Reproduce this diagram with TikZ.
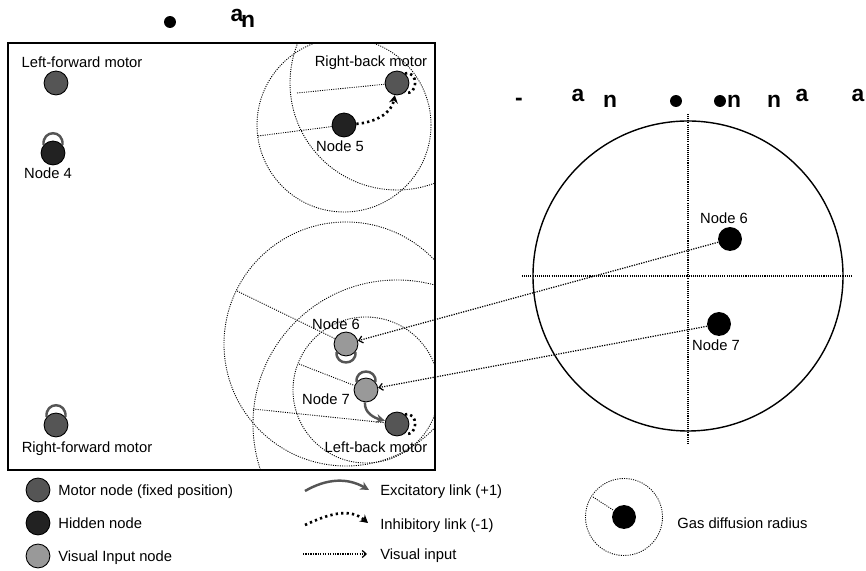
\documentclass[tikz,border=0pt]{standalone}
\usepackage{fontspec}
\setmainfont{Liberation Sans}
\usetikzlibrary{arrows.meta}

\definecolor{motorgray}{RGB}{85,85,85}
\definecolor{hiddengray}{RGB}{34,34,34}
\definecolor{visualgray}{RGB}{153,153,153}

\tikzset{
  neuron/.style={draw, circle, line width=0.5pt, minimum size=13.6pt, inner sep=0pt},
  motor/.style={neuron, fill=motorgray},
  hidden/.style={neuron, fill=hiddengray},
  visual/.style={neuron, fill=visualgray},
  gasnode/.style={circle, fill=black, minimum size=13.6pt, inner sep=0pt},
  dotmark/.style={circle, fill=black, minimum size=6.8pt, inner sep=0pt},
  lbl/.style={font=\fontsize{8.4}{10}\selectfont, inner sep=0pt, text height=6pt, text depth=0pt},
  glyph/.style={font=\fontsize{13}{13}\bfseries\selectfont, inner sep=0pt},
  excit/.style={draw=motorgray, line width=1.4pt},
  inhib/.style={line width=1.5pt, dash pattern=on 1.3pt off 1.8pt},
  gasline/.style={line width=0.5pt, dash pattern=on 0.6pt off 0.7pt},
  axisline/.style={line width=0.8pt, dash pattern=on 0.6pt off 0.6pt},
  vislink/.style={line width=0.7pt, dash pattern=on 0.7pt off 0.7pt, -{Straight Barb[length=2.2pt,width=4pt]}},
}

\begin{document}
\begin{tikzpicture}[x=0.02cm, y=0.02cm]
  \useasboundingbox (0,0) rectangle (866,571);

  % stray title glyphs
  \node[dotmark] (td1) at (170,549) {};
  \node[glyph] (ta1) at (237,556) {a};
  \node[glyph] (tn1) at (248,550) {n};
  \node[glyph] (tm2) at (519,469) {-};
  \node[glyph] (ta2) at (578,476) {a};
  \node[glyph] (tn2) at (610,470) {n};
  \node[dotmark] (td2) at (676,470) {};
  \node[dotmark] (td3) at (720,470) {};
  \node[glyph] (tn3) at (734,470) {n};
  \node[glyph] (tn4) at (774,470) {n};
  \node[glyph] (ta3) at (802,476) {a};
  \node[glyph] (ta4) at (858,476) {a};

  % arena nodes
  \node[motor] (lf) at (56,488) {};
  \node[hidden] (n4) at (53,418) {};
  \node[motor] (rf) at (56,146) {};
  \node[motor] (rb) at (397,488) {};
  \node[hidden] (n5) at (344,446) {};
  \node[visual] (n6) at (346,227) {};
  \node[visual] (n7) at (366,181) {};
  \node[motor] (lb) at (397,147) {};

  % gas diffusion radii
  \coordinate (r5) at (258,435);
  \coordinate (rrb) at (297,478);
  \coordinate (r6) at (237,280);
  \coordinate (rlb) at (253,162);
  \coordinate (r7) at (299,207);
  \begin{scope}
    \clip (8,101) rectangle (435,528);
    \draw[gasline] (n5.center) circle[radius=87];
    \draw[gasline] (rb.center) circle[radius=107];
    \draw[gasline] (n6.center) circle[radius=122];
    \draw[gasline] (lb.center) circle[radius=144];
    \draw[gasline] (n7.center) circle[radius=73];
  \end{scope}
  \draw[gasline] (r5) -- (n5);
  \draw[gasline] (rrb) -- (rb);
  \draw[gasline] (r6) -- (n6);
  \draw[gasline] (rlb) -- (lb);
  \draw[gasline] (r7) -- (n7);

  \draw[line width=0.9pt] (8,101) rectangle (435,528);

  \node[lbl] (lflbl) at (82,509) {Left-forward motor};
  \node[lbl] (n4lbl) at (48,398) {Node 4};
  \node[lbl] (rflbl) at (87,124) {Right-forward motor};
  \node[lbl] (rblbl) at (371,510) {Right-back motor};
  \node[lbl] (n5lbl) at (340,425) {Node 5};
  \node[lbl] (n6lbl) at (336,247) {Node 6};
  \node[lbl] (n7lbl) at (326,172) {Node 7};
  \node[lbl] (lblbl) at (376,124) {Left-back motor};

  % links
  \draw[excit] (n4.140) .. controls +(95:9pt) and +(85:9pt) .. (n4.40);
  \draw[excit] (rf.140) .. controls +(95:9pt) and +(85:9pt) .. (rf.40);
  \draw[excit] (n7.140) .. controls +(95:8pt) and +(85:8pt) .. (n7.40);
  \draw[excit] (n6.220) .. controls +(-95:8pt) and +(-85:8pt) .. (n6.-40);
  \draw[excit, -{Stealth[length=5pt,width=5pt]}] (n7) to[out=-95, in=165] (lb);
  \draw[inhib] (rb.50) .. controls +(15:8pt) and +(-15:8pt) .. (rb.-50);
  \draw[inhib] (lb.50) .. controls +(15:8pt) and +(-15:8pt) .. (lb.-50);
  \draw[inhib, -{Stealth[length=4.5pt,width=5pt]}] (n5) to[out=5, in=-100] (rb);

  % rotated view
  \coordinate (cen) at (688,295);
  \draw[line width=0.8pt] (cen) circle[radius=155];
  \coordinate (ax1) at (688,457);
  \coordinate (ax2) at (688,126);
  \coordinate (ax3) at (522,295);
  \coordinate (ax4) at (853,295);
  \draw[axisline] (ax1) -- (ax2);
  \draw[axisline] (ax3) -- (ax4);
  \node[gasnode] (g6) at (730,332) {};
  \node[gasnode] (g7) at (719,247) {};
  \node[lbl] (g6lbl) at (724,353) {Node 6};
  \node[lbl] (g7lbl) at (716,226) {Node 7};
  \draw[vislink] (g6) -- (n6);
  \draw[vislink] (g7) -- (n7);

  % legend
  \node[motor] (kmotor) at (38,81) {};
  \node[hidden] (khidden) at (38,48) {};
  \node[visual] (kvisual) at (38,15) {};
  \node[lbl, anchor=west] (kmotorlbl) at (58,81) {Motor node (fixed position)};
  \node[lbl, anchor=west] (khiddenlbl) at (58,48) {Hidden node};
  \node[lbl, anchor=west] (kvisuallbl) at (58,15) {Visual Input node};

  \coordinate (exa) at (305,80);
  \coordinate (exb) at (369,81);
  \coordinate (ina) at (305,46);
  \coordinate (inb) at (368,48);
  \coordinate (via) at (303,17);
  \coordinate (vib) at (367,17);
  \draw[excit, -{Stealth[length=5pt,width=5pt]}] (exa) to[out=30, in=150] (exb);
  \draw[inhib, -{Stealth[length=4.5pt,width=5pt]}] (ina) to[out=25, in=140] (inb);
  \draw[vislink] (via) -- (vib);
  \node[lbl, anchor=west] (exlbl) at (380,81) {Excitatory link (+1)};
  \node[lbl, anchor=west] (inlbl) at (380,47) {Inhibitory link (-1)};
  \node[lbl, anchor=west] (vilbl) at (380,17) {Visual input};

  \node[gasnode] (kgas) at (624,54) {};
  \coordinate (kgasr) at (593,74);
  \draw[gasline] (kgas.center) circle[radius=38.5];
  \draw[gasline] (kgasr) -- (kgas);
  \node[lbl, anchor=west] (kgaslbl) at (677,48) {Gas diffusion radius};
\end{tikzpicture}
\end{document}
